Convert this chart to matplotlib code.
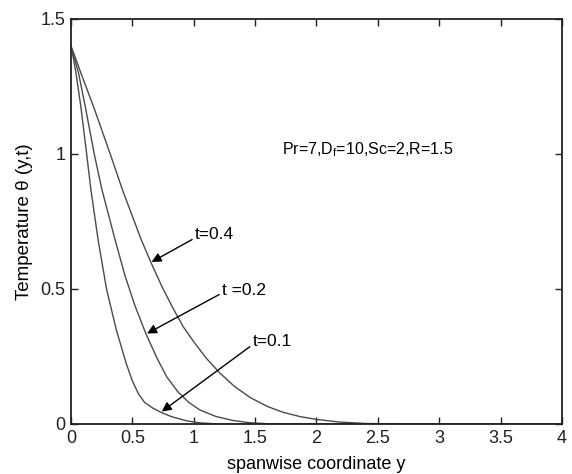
import numpy as np
import matplotlib
matplotlib.use("Agg")
import matplotlib.pyplot as plt

plt.rcParams['font.family'] = ['Liberation Sans', 'DejaVu Sans']
plt.rcParams['mathtext.default'] = 'regular'

# curve readings (spanwise y, temperature)
y_t01 = [0, 0.02, 0.041, 0.081, 0.128, 0.163, 0.222, 0.29, 0.37, 0.45, 0.50, 0.55, 0.60, 0.67,
         0.74, 0.82, 0.94, 1.05, 1.2, 4.0]
th_t01 = [1.40, 1.355, 1.30, 1.175, 1.0, 0.867, 0.68, 0.50, 0.348, 0.225, 0.16, 0.112, 0.08, 0.058,
          0.042, 0.027, 0.012, 0.004, 0.0, 0.0]

y_t02 = [0, 0.03, 0.062, 0.117, 0.19, 0.253, 0.361, 0.44, 0.52, 0.61, 0.70, 0.78, 0.87, 0.96,
         1.05, 1.18, 1.32, 1.45, 1.6, 4.0]
th_t02 = [1.40, 1.352, 1.30, 1.175, 1.0, 0.867, 0.68, 0.55, 0.44, 0.335, 0.245, 0.175, 0.12, 0.08,
          0.052, 0.028, 0.013, 0.005, 0.001, 0.0]

y_t04 = [0, 0.04, 0.081, 0.19, 0.32, 0.42, 0.50, 0.575, 0.655, 0.74, 0.83, 0.915, 1.0, 1.1, 1.21,
         1.33, 1.46, 1.6, 1.73, 1.87, 2.0, 2.19, 2.4, 2.7, 4.0]
th_t04 = [1.40, 1.352, 1.30, 1.168, 1.0, 0.867, 0.77, 0.68, 0.595, 0.51, 0.43, 0.36, 0.305, 0.245,
          0.19, 0.14, 0.098, 0.065, 0.043, 0.027, 0.017, 0.007, 0.002, 0.0, 0.0]

xticks = [0, 0.5, 1, 1.5, 2, 2.5, 3, 3.5, 4]
xticklabels = ['0', '0.5', '1', '1.5', '2', '2.5', '3', '3.5', '4']
yticks = [0, 0.5, 1, 1.5]
yticklabels = ['0', '0.5', '1', '1.5']

fig = plt.figure(figsize=(5.72, 4.74), dpi=100)
ax = fig.add_axes([0.124, 0.1055, 0.8585, 0.8545])

lc = '#4a4a4a'
ax.plot(y_t01, th_t01, color=lc, lw=1.0)
ax.plot(y_t02, th_t02, color=lc, lw=1.0)
ax.plot(y_t04, th_t04, color=lc, lw=1.0)

ax.set_xlim(0, 4)
ax.set_ylim(0, 1.5)
ax.set_xticks(xticks)
ax.set_xticklabels(xticklabels)
ax.set_yticks(yticks)
ax.set_yticklabels(yticklabels)
ax.tick_params(direction='in', top=True, right=True, length=5, width=1,
               labelsize=13, colors='#222222', pad=4)
for s in ax.spines.values():
    s.set_linewidth(1.3)
    s.set_color('#222222')

ax.set_xlabel('spanwise coordinate y', fontsize=13, labelpad=7)
ax.set_ylabel('Temperature θ (y,t)', fontsize=13.5, labelpad=5)

ax.text(1.72, 1.015, 'Pr=7,D$_f$=10,Sc=2,R=1.5', fontsize=11.5, va='center', ha='left')

arrow = dict(arrowstyle='-|>', color='black', lw=1.0, mutation_scale=14, shrinkA=0, shrinkB=0)
ax.annotate('t=0.4', xy=(0.657, 0.60), xytext=(1.01, 0.70), fontsize=12.5,
            va='center', ha='left', arrowprops=dict(arrow, relpos=(0, 0.3)))
ax.annotate('t =0.2', xy=(0.62, 0.335), xytext=(1.23, 0.496), fontsize=12.5,
            va='center', ha='left', arrowprops=dict(arrow, relpos=(0, 0.3)))
ax.annotate('t=0.1', xy=(0.74, 0.046), xytext=(1.48, 0.305), fontsize=12.5,
            va='center', ha='left', arrowprops=dict(arrow, relpos=(0, 0.3)))

fig.savefig('out.png', dpi=100)
